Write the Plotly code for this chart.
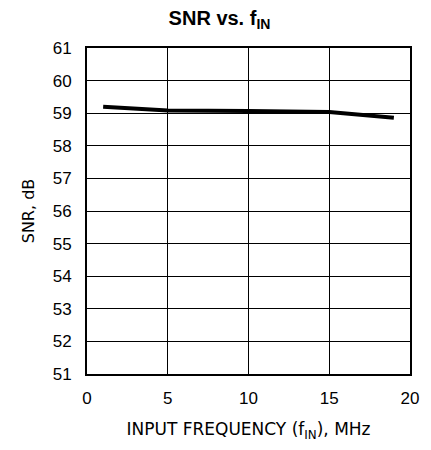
import plotly.graph_objects as go

freq_mhz = [1, 5, 10, 15, 19]
snr_db = [59.2, 59.08, 59.07, 59.04, 58.86]
x_ticks = [0, 5, 10, 15, 20]
y_ticks = list(range(51, 62))

# page body has an 8px margin; compensate in figure size and margins
fig = go.Figure()
fig.add_trace(go.Scatter(x=freq_mhz, y=snr_db, mode="lines",
                         line=dict(color="black", width=4), showlegend=False))

axis_common = dict(showgrid=True, gridcolor="black", gridwidth=1,
                   showline=True, linecolor="black", linewidth=2, mirror=True,
                   zeroline=False, ticks="",
                   tickfont=dict(family="Liberation Sans, Arial", size=17, color="black"))

fig.update_layout(
    width=423, height=442,
    margin=dict(l=79, r=13, t=40, b=76),
    paper_bgcolor="white", plot_bgcolor="white",
    title=dict(text="<b>SNR vs. f<sub>IN</sub></b>", x=0.5, xanchor="center",
               y=0.978, yanchor="middle",
               font=dict(family="Liberation Sans, Arial", size=20, color="black")),
    xaxis=dict(range=[0, 20], tickvals=x_ticks, ticklabelstandoff=8,
               title=dict(text="INPUT FREQUENCY (f<sub>IN</sub>), MHz", standoff=16,
                          font=dict(family="DejaVu Sans, Liberation Sans", size=17, color="black")),
               **axis_common),
    yaxis=dict(range=[51, 61], tickvals=y_ticks, ticklabelstandoff=10,
               title=dict(text="SNR, dB", standoff=14,
                          font=dict(family="DejaVu Sans, Liberation Sans", size=16, color="black")),
               **axis_common),
)

fig.write_html("out.html")
